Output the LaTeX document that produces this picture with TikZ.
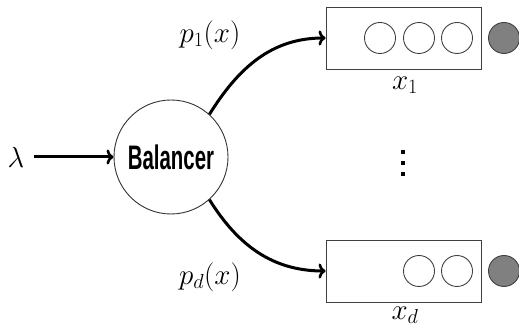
\RequirePackage{fix-cm}
\documentclass[tikz,border=0pt]{standalone}
\usepackage{fontspec}
\usetikzlibrary{arrows.meta}
\newfontfamily\balfont{Liberation Sans}
\begin{document}
\begin{tikzpicture}[x=1pt,y=1pt,
  every node/.style={font=\fontsize{29}{34}\selectfont},
  flow/.style={line width=3pt,-{To[length=7pt,width=15pt,line width=2.6pt]}},
  qbox/.style={draw=black!75,line width=0.9pt,minimum width=155pt,minimum height=62pt,inner sep=0pt},
  job/.style={circle,draw=black!75,line width=0.9pt,minimum size=31pt,inner sep=0pt},
  srv/.style={circle,draw=black!75,fill=black!50,line width=0.9pt,minimum size=31pt,inner sep=0pt},
  dotsq/.style={fill=black,minimum size=4pt,inner sep=0pt}]
\useasboundingbox (0,0) rectangle (519,326);
\node[circle,draw=black!80,line width=0.9pt,minimum size=114pt,inner sep=0pt] (bal) at (171,169)
  {\scalebox{0.6}[1]{\balfont\bfseries\fontsize{34}{36}\selectfont Balancer}};
\node (lam) at (16,169) {$\lambda$};
\coordinate (lamend) at (34,169);
\draw[flow] (lamend) -- (bal.west);
\node[qbox] (q1) at (403.5,288) {};
\node[qbox] (qd) at (403.5,55) {};
\node[job] (a1) at (380,288) {};
\node[job] (a2) at (419,288) {};
\node[job] (a3) at (457,288) {};
\node[srv] (s1) at (504,288) {};
\node[job] (b2) at (419,55) {};
\node[job] (b3) at (457,55) {};
\node[srv] (sd) at (504,55) {};
\node (x1) at (405,241) {$x_1$};
\node (xd) at (405,11) {$x_d$};
\node (p1) at (210,291) {$p_1(x)$};
\node (pd) at (210,49) {$p_d(x)$};
\node[dotsq] (d1) at (403,174) {};
\node[dotsq] (d2) at (403,163) {};
\node[dotsq] (d3) at (403,152) {};
\draw[flow] (bal.48) to[out=58,in=180] (q1.west);
\draw[flow] (bal.-48) to[out=-58,in=180] (qd.west);
\end{tikzpicture}
\end{document}
